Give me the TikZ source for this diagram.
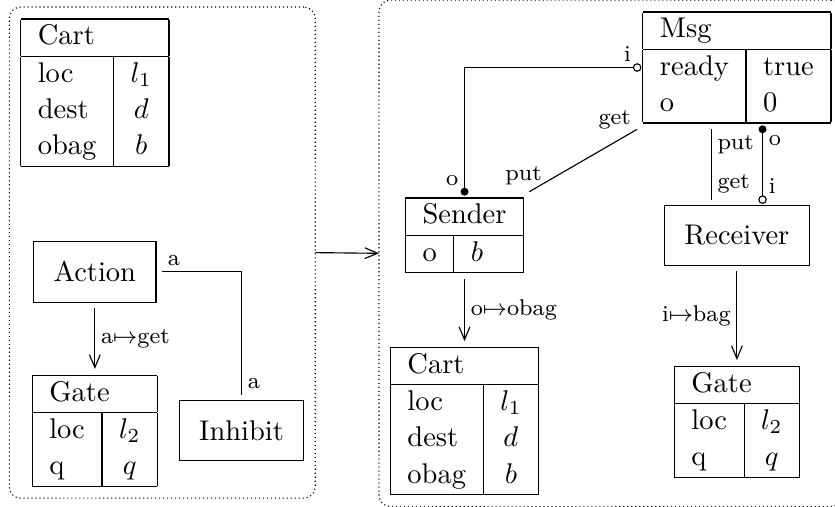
\documentclass[tikz,border=0pt]{standalone}
\usepackage{amsmath, amssymb}
\usetikzlibrary{arrows.meta, fit}
\renewcommand{\arraystretch}{1.06}

\begin{document}
\begin{tikzpicture}[>={Straight Barb[length=4.5pt,width=3.8pt]},
  box/.style={draw, inner sep=7pt, outer sep=2pt},
  rec/.style={inner sep=0pt, outer sep=2pt},
  lab/.style={font=\footnotesize, inner sep=2pt},
  panel/.style={draw, densely dotted, rounded corners=4pt, inner sep=2pt, outer sep=0pt}]
\useasboundingbox (0,0) rectangle (10.3,6.253);

% left hand side
\node[rec] (cartL) at (1.17,5.11) {\begin{tabular}{|l|c|}\hline
\multicolumn{2}{|l|}{Cart}\\\hline
loc & $l_1$\\
dest & $d$\\
obag & $b$\\\hline
\end{tabular}};
\node[box] (action) at (1.17,2.9) {Action};
\node[rec] (gateL) at (1.17,0.94) {\begin{tabular}{|l|c|}\hline
\multicolumn{2}{|l|}{Gate}\\\hline
loc & $l_2$\\
q & $q$\\\hline
\end{tabular}};
\node[box] (inhibit) at (2.98,0.94) {Inhibit};

\draw[->] (action) -- node[lab, right] {a$\mapsto$get} (gateL);
\draw (action.east) -| node[lab, pos=0, anchor=south west] {a}
  node[lab, pos=1, anchor=south west] {a} (inhibit.north);

% right hand side
\node[rec] (msg) at (9.09,5.42) {\begin{tabular}{|l|l|}\hline
\multicolumn{2}{|l|}{Msg}\\\hline
ready & true\\
o & 0\\\hline
\end{tabular}};
\node[rec] (sender) at (5.73,3.35) {\begin{tabular}{|l|l|}\hline
\multicolumn{2}{|c|}{Sender}\\\hline
o & $b$\\\hline
\end{tabular}};
\node[box] (receiver) at (9.09,3.35) {Receiver};
\node[rec] (cartR) at (5.73,1.06) {\begin{tabular}{|l|c|}\hline
\multicolumn{2}{|l|}{Cart}\\\hline
loc & $l_1$\\
dest & $d$\\
obag & $b$\\\hline
\end{tabular}};
\node[rec] (gateR) at (9.09,1.05) {\begin{tabular}{|l|c|}\hline
\multicolumn{2}{|l|}{Gate}\\\hline
loc & $l_2$\\
q & $q$\\\hline
\end{tabular}};

\draw (sender.north) |- node[lab, pos=0, anchor=south east] {o}
  node[lab, pos=1, anchor=south east] {i} (msg.west);
\fill (sender.north) circle (1.4pt);
\draw[fill=white] (msg.west) circle (1.3pt);
\draw (sender.north east) -- node[lab, pos=0, anchor=south, xshift=-2pt] {put}
  node[lab, pos=1, anchor=south east, yshift=-2pt] {get} (msg.south west);

\draw ([xshift=-9pt]msg.south) -- node[lab, pos=0, anchor=north west] {put}
  node[lab, pos=1, anchor=south west] {get} ([xshift=-9pt]receiver.north);
\draw ([xshift=9pt]msg.south) -- node[lab, pos=0, anchor=north west] {o}
  node[lab, pos=1, anchor=south west] {i} ([xshift=9pt]receiver.north);
\fill ([xshift=9pt]msg.south) circle (1.4pt);
\draw[fill=white] ([xshift=9pt]receiver.north) circle (1.3pt);

\draw[->] (sender) -- node[lab, right] {o$\mapsto$obag} (cartR);
\draw[->] (receiver) -- node[lab, left] {i$\mapsto$bag} (gateR);

% the two sides
\node[panel, fit=(cartL)(action)(gateL)(inhibit)] (lhs) {};
\node[panel, fit=(msg)(sender)(receiver)(cartR)(gateR)] (rhs) {};
\draw[->] (lhs.east) -- (rhs.west);
\end{tikzpicture}
\end{document}
